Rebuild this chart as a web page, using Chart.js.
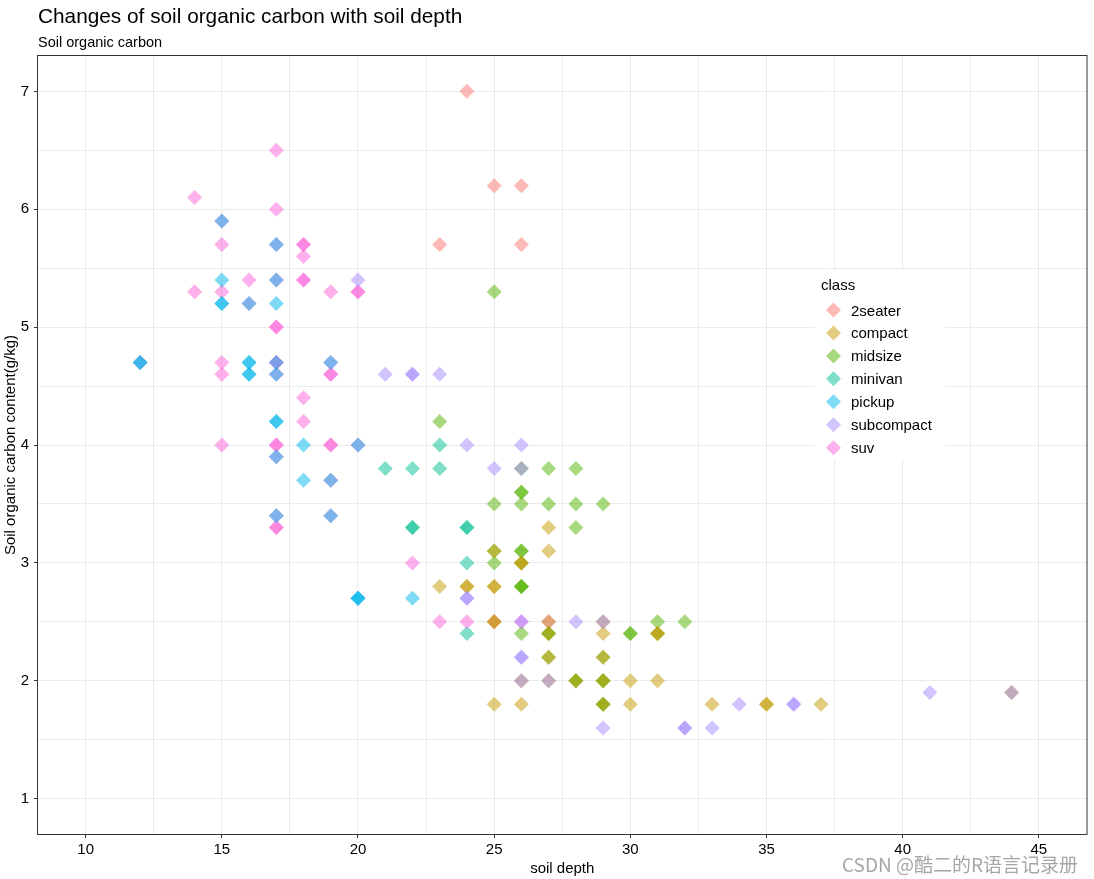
<!DOCTYPE html>
<html>
<head>
<meta charset="utf-8">
<script src="https://cdn.jsdelivr.net/npm/chart.js@4.4.0/dist/chart.umd.min.js"></script>
<style>
  html, body { margin: 0; padding: 0; background: #ffffff; }
</style>
</head>
<body>
<canvas id="soilChart" width="1094" height="879"></canvas>
<script>
// classes and their colours (ggplot hue palette)
var classes = ['2seater', 'compact', 'midsize', 'minivan', 'pickup', 'subcompact', 'suv'];
var classColors = ['#F8766D', '#C49A00', '#53B400', '#00C094', '#00B6EB', '#A58AFF', '#FB61D7'];
// which class sits on top when points overlap (lower = on top)
var drawOrder = [6, 2, 3, 5, 0, 1, 4];

// soil depth (x) and soil organic carbon (y) per class
var depth2seater = [24, 25, 26, 23, 26];
var carbon2seater = [7.0, 6.2, 6.2, 5.7, 5.7];

var depthCompact = [27, 27, 25, 26, 26, 23, 24, 24, 25, 25, 25, 25, 27, 29, 27, 29, 31, 31, 27, 29, 26, 27, 28, 29, 30, 31, 25, 26, 29, 30, 33, 35, 35, 37, 44];
var carbonCompact = [3.3, 3.1, 3.1, 3.0, 3.0, 2.8, 2.8, 2.8, 2.8, 2.8, 2.5, 2.5, 2.5, 2.5, 2.4, 2.4, 2.4, 2.4, 2.2, 2.2, 2.0, 2.0, 2.0, 2.0, 2.0, 2.0, 1.8, 1.8, 1.8, 1.8, 1.8, 1.8, 1.8, 1.8, 1.9];

var depthMidsize = [25, 23, 26, 27, 28, 26, 26, 25, 26, 27, 28, 29, 28, 25, 26, 26, 25, 26, 26, 26, 26, 26, 27, 27, 30, 30, 31, 31, 32, 27, 29, 28, 28, 29, 29, 29, 29];
var carbonMidsize = [5.3, 4.2, 3.8, 3.8, 3.8, 3.6, 3.6, 3.5, 3.5, 3.5, 3.5, 3.5, 3.3, 3.1, 3.1, 3.1, 3.0, 3.0, 2.8, 2.8, 2.8, 2.4, 2.4, 2.4, 2.4, 2.4, 2.4, 2.5, 2.5, 2.2, 2.2, 2.0, 2.0, 2.0, 2.0, 1.8, 1.8];

var depthMinivan = [23, 21, 22, 23, 22, 22, 24, 24, 24, 24];
var carbonMinivan = [4.0, 3.8, 3.8, 3.8, 3.3, 3.3, 3.3, 3.3, 3.0, 2.4];

var depthPickup = [15, 17, 15, 17, 15, 15, 16, 17, 12, 12, 16, 16, 16, 16, 17, 17, 17, 17, 18, 17, 19, 20, 18, 19, 17, 19, 22, 20, 20, 20];
var carbonPickup = [5.9, 5.7, 5.4, 5.4, 5.2, 5.2, 5.2, 5.2, 4.7, 4.7, 4.7, 4.7, 4.6, 4.6, 4.7, 4.6, 4.2, 4.2, 4.0, 3.9, 4.7, 4.0, 3.7, 3.7, 3.4, 3.4, 2.7, 2.7, 2.7, 2.7];

var depthSubcompact = [20, 21, 22, 22, 23, 24, 26, 25, 26, 24, 24, 26, 28, 29, 26, 26, 26, 27, 29, 32, 32, 33, 34, 36, 36, 41, 44];
var carbonSubcompact = [5.4, 4.6, 4.6, 4.6, 4.6, 4.0, 4.0, 3.8, 3.8, 2.7, 2.7, 2.5, 2.5, 2.5, 2.2, 2.2, 2.0, 2.0, 1.6, 1.6, 1.6, 1.6, 1.8, 1.8, 1.8, 1.9, 1.9];

var depthSuv = [17, 14, 17, 15, 15, 17, 18, 18, 18, 16, 17, 18, 18, 20, 20, 14, 15, 16, 19, 17, 17, 12, 15, 15, 17, 17, 17, 19, 19, 19, 18, 18, 15, 17, 17, 17, 19, 19, 20, 19, 17, 19, 17, 17, 22, 23, 24, 25, 26, 27];
var carbonSuv = [6.5, 6.1, 6.0, 5.9, 5.7, 5.7, 5.7, 5.7, 5.6, 5.4, 5.4, 5.4, 5.4, 5.3, 5.3, 5.3, 5.3, 5.2, 5.3, 5.0, 5.0, 4.7, 4.7, 4.6, 4.7, 4.7, 4.6, 4.7, 4.6, 4.6, 4.4, 4.2, 4.0, 4.0, 4.0, 3.9, 4.0, 4.0, 4.0, 3.7, 3.4, 3.4, 3.3, 3.3, 3.0, 2.5, 2.5, 2.5, 2.5, 2.5];

var depthByClass = [depth2seater, depthCompact, depthMidsize, depthMinivan, depthPickup, depthSubcompact, depthSuv];
var carbonByClass = [carbon2seater, carbonCompact, carbonMidsize, carbonMinivan, carbonPickup, carbonSubcompact, carbonSuv];

// axis ticks
var xMajor = [10, 15, 20, 25, 30, 35, 40, 45];
var xMinor = [12.5, 17.5, 22.5, 27.5, 32.5, 37.5, 42.5];
var yMajor = [1, 2, 3, 4, 5, 6, 7];
var yMinor = [1.5, 2.5, 3.5, 4.5, 5.5, 6.5];

function alpha(hex, a) {
    var n = parseInt(hex.slice(1), 16);
    return 'rgba(' + (n >> 16) + ',' + ((n >> 8) & 255) + ',' + (n & 255) + ',' + a + ')';
}

var datasets = classes.map(function (name, i) {
    return {
        label: name,
        data: depthByClass[i].map(function (d, j) { return { x: d, y: carbonByClass[i][j] }; }),
        backgroundColor: alpha(classColors[i], 0.5),
        borderWidth: 0,
        pointStyle: 'rectRot',
        pointRadius: 7.5,
        pointHoverRadius: 7.5,
        order: drawOrder[i]
    };
});

Chart.defaults.font.family = '"Liberation Sans", Arial, sans-serif';
Chart.defaults.font.size = 15;
Chart.defaults.color = '#000000';

// titles, panel border, legend and watermark
var decor = {
    id: 'decor',
    afterDraw: function (chart) {
        var c = chart.ctx, a = chart.chartArea;
        c.save();
        c.strokeStyle = '#333333';
        c.lineWidth = 1;
        c.strokeRect(a.left - 0.5, a.top - 0.5, a.right - a.left + 1, a.bottom - a.top + 1);

        c.fillStyle = '#000000';
        c.textAlign = 'left';
        c.textBaseline = 'alphabetic';
        c.font = '20.8px "Liberation Sans", Arial, sans-serif';
        c.fillText('Changes of soil organic carbon with soil depth', 38, 23);
        c.font = '14.5px "Liberation Sans", Arial, sans-serif';
        c.fillText('Soil organic carbon', 38, 46.5);

        // axis titles
        c.font = '15px "Liberation Sans", Arial, sans-serif';
        c.textAlign = 'center';
        c.fillText('soil depth', (a.left + a.right) / 2, 873);
        c.save();
        c.translate(15, (a.top + a.bottom) / 2);
        c.rotate(-Math.PI / 2);
        c.fillText('Soil organic carbon content(g/kg)', 0, 0);
        c.restore();

        // legend
        c.fillStyle = '#ffffff';
        c.fillRect(815, 270, 130, 189);
        c.fillStyle = '#000000';
        c.textAlign = 'left';
        c.fillText('class', 821, 289.5);
        classes.forEach(function (name, i) {
            var ky = 310 + i * 22.95, kx = 833.5, r = 7.5;
            c.fillStyle = alpha(classColors[i], 0.5);
            c.beginPath();
            c.moveTo(kx - r, ky);
            c.lineTo(kx, ky - r);
            c.lineTo(kx + r, ky);
            c.lineTo(kx, ky + r);
            c.closePath();
            c.fill();
            c.fillStyle = '#000000';
            c.fillText(name, 851, ky + 5.5);
        });

        // watermark
        c.font = '19px "Noto Sans CJK SC", sans-serif';
        c.fillStyle = 'rgba(150,150,150,0.85)';
        c.textAlign = 'right';
        c.fillText('CSDN @酷二的R语言记录册', 1078, 872);
        c.restore();
    }
};

function tickList(major, minor) {
    return function (scale) {
        scale.ticks = major.concat(minor).sort(function (p, q) { return p - q; })
            .map(function (v) { return { value: v }; });
    };
}

var ctx = document.getElementById('soilChart').getContext('2d');
var chart = new Chart(ctx, {
    type: 'scatter',
    data: { datasets: datasets },
    plugins: [decor],
    options: {
        responsive: false,
        animation: false,
        layout: { padding: { top: 56, right: 5, left: 0, bottom: 0 } },
        plugins: {
            legend: { display: false },
            tooltip: { enabled: false }
        },
        scales: {
            x: {
                type: 'linear',
                min: 8.25,
                max: 46.75,
                afterBuildTicks: tickList(xMajor, xMinor),
                afterFit: function (scale) { scale.height = 45; },
                border: { display: false },
                grid: {
                    color: '#EBEBEB',
                    lineWidth: 1,
                    tickLength: 4,
                    tickColor: function (c) { return xMajor.indexOf(c.tick.value) >= 0 ? '#333333' : 'rgba(0,0,0,0)'; }
                },
                ticks: {
                    autoSkip: false,
                    maxRotation: 0,
                    padding: 3,
                    callback: function (v) { return xMajor.indexOf(v) >= 0 ? String(v) : ''; }
                }
            },
            y: {
                type: 'linear',
                min: 0.7,
                max: 7.3,
                afterBuildTicks: tickList(yMajor, yMinor),
                afterFit: function (scale) { scale.width = 38; },
                border: { display: false },
                grid: {
                    color: '#EBEBEB',
                    lineWidth: 1,
                    tickLength: 4,
                    tickColor: function (c) { return yMajor.indexOf(c.tick.value) >= 0 ? '#333333' : 'rgba(0,0,0,0)'; }
                },
                ticks: {
                    autoSkip: false,
                    padding: 5,
                    callback: function (v) { return yMajor.indexOf(v) >= 0 ? String(v) : ''; }
                }
            }
        }
    }
});
</script>
</body>
</html>
